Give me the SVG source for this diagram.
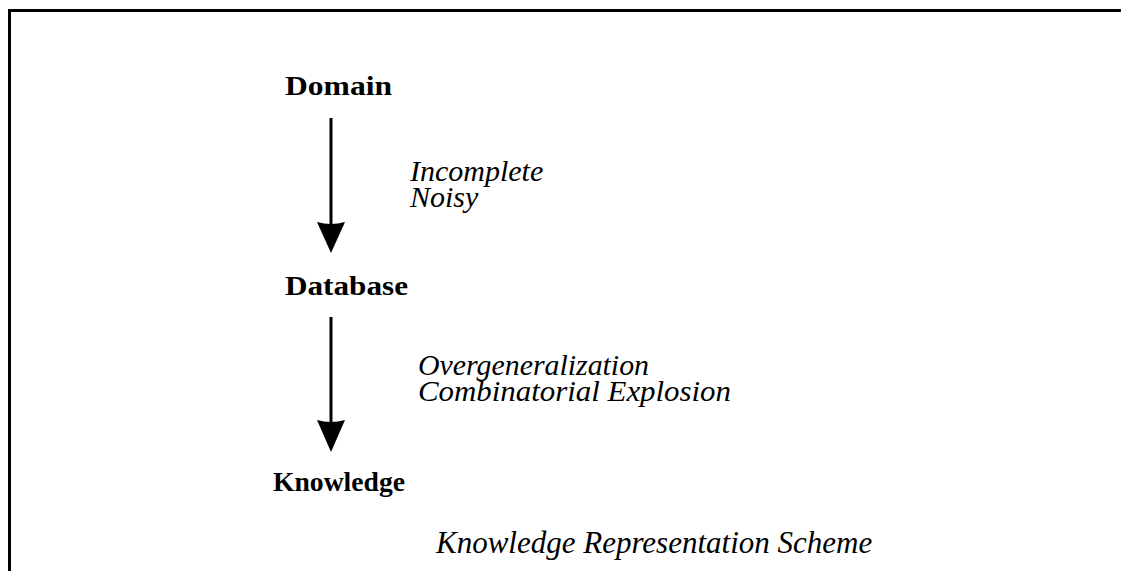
<svg xmlns="http://www.w3.org/2000/svg" width="1121" height="571" viewBox="0 0 1121 571">
<style>
.b{font-family:"Liberation Serif","Times New Roman",serif;font-weight:bold;font-size:27px;fill:#000}
.i{font-family:"Liberation Serif","Times New Roman",serif;font-style:italic;font-size:30px;fill:#000}
.shaft{stroke:#000;stroke-width:3;fill:none}
.head{fill:#000;stroke:none}
</style>
<rect width="1121" height="571" fill="#fff"/>
<path d="M9.5 571 V10.5 H1121" fill="none" stroke="#000" stroke-width="3"/>
<g id="connectors">
<line class="shaft" x1="331" y1="118" x2="331" y2="226"/>
<path class="head" d="M317 222 Q331 226 345 222 L331 253 Z"/>
<line class="shaft" x1="331" y1="317" x2="331" y2="424"/>
<path class="head" d="M317 420 Q331 424 345 420 L331 452 Z"/>
</g>
<g id="domain"><text class="b" x="285" y="95" textLength="107" lengthAdjust="spacingAndGlyphs">Domain</text></g>
<g id="database"><text class="b" x="285" y="295" textLength="123" lengthAdjust="spacingAndGlyphs">Database</text></g>
<g id="knowledge"><text class="b" x="273" y="491" textLength="132" lengthAdjust="spacingAndGlyphs">Knowledge</text></g>
<g id="label1">
<text class="i" x="410" y="181">Incomplete</text>
<text class="i" x="410" y="207">Noisy</text>
</g>
<g id="label2">
<text class="i" x="418" y="375" textLength="231" lengthAdjust="spacingAndGlyphs">Overgeneralization</text>
<text class="i" x="418" y="401" textLength="313" lengthAdjust="spacingAndGlyphs">Combinatorial Explosion</text>
</g>
<g id="label3"><text class="i" x="436" y="553" style="font-size:31px">Knowledge Representation Scheme</text></g>
</svg>
